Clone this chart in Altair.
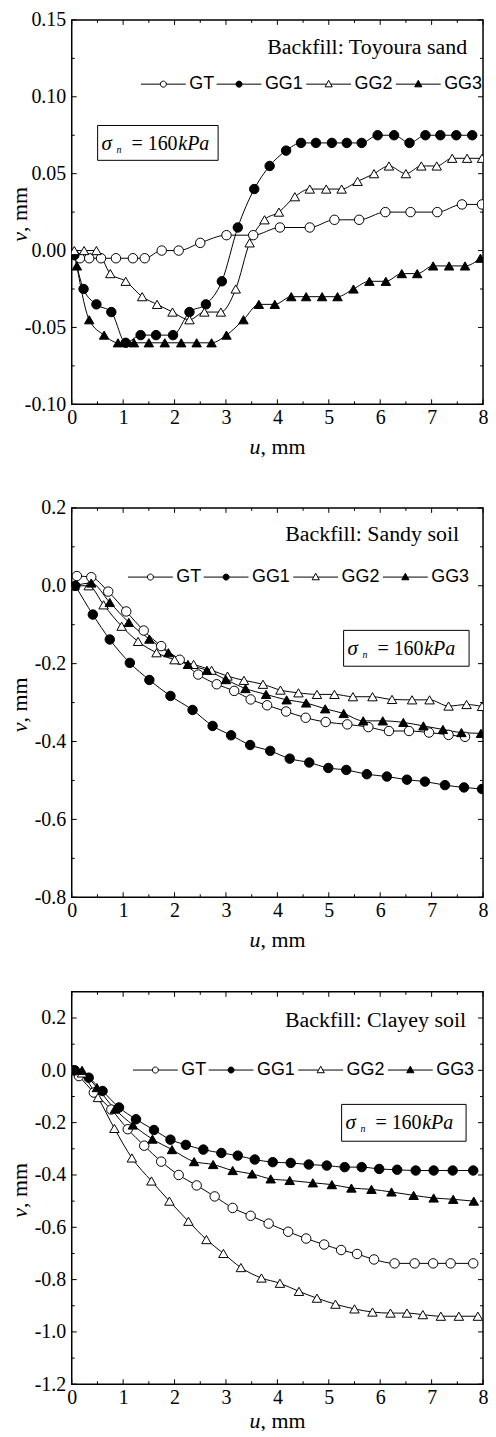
import altair as alt
import pandas as pd

SERIES = ["GT", "GG1", "GG2", "GG3"]
MARKER_SHAPES = ["circle", "circle", "triangle-up", "triangle-up"]
MARKER_FILLS = ["white", "black", "white", "black"]
MARKER_STROKES = ["black", "black", "black", "black"]

# ---------- Panel 1: Toyoura sand ----------
T_GT_u = [0.16, 0.34, 0.57, 0.86, 1.19, 1.42, 1.75, 2.08, 2.5, 3.01, 3.53, 4.05, 4.63, 5.11, 5.59, 6.1, 6.59, 7.11, 7.59, 7.98]
T_GT_v = [-0.005, -0.005, -0.005, -0.005, -0.005, -0.005, 0.0, 0.0, 0.005, 0.01, 0.01, 0.015, 0.015, 0.02, 0.02, 0.025, 0.025, 0.025, 0.03, 0.03]
T_GG1_u = [0.05, 0.23, 0.48, 0.77, 1.05, 1.34, 1.64, 1.97, 2.29, 2.61, 2.92, 3.23, 3.55, 3.85, 4.17, 4.46, 4.75, 5.06, 5.35, 5.64, 5.95, 6.27, 6.57, 6.88, 7.17, 7.48, 7.79]
T_GG1_v = [-0.003, -0.025, -0.035, -0.04, -0.06, -0.055, -0.055, -0.055, -0.04, -0.035, -0.02, 0.015, 0.04, 0.055, 0.065, 0.07, 0.07, 0.07, 0.07, 0.07, 0.075, 0.075, 0.07, 0.075, 0.075, 0.075, 0.075]
T_GG2_u = [0.05, 0.24, 0.48, 0.75, 1.05, 1.37, 1.66, 1.96, 2.29, 2.58, 2.9, 3.19, 3.46, 3.75, 4.03, 4.34, 4.63, 4.95, 5.25, 5.56, 5.88, 6.17, 6.5, 6.8, 7.1, 7.4, 7.69, 7.98]
T_GG2_v = [0.0, 0.0, 0.0, -0.015, -0.02, -0.03, -0.035, -0.04, -0.045, -0.04, -0.04, -0.025, 0.005, 0.02, 0.025, 0.035, 0.04, 0.04, 0.04, 0.045, 0.05, 0.055, 0.05, 0.055, 0.055, 0.06, 0.06, 0.06]
T_GG3_u = [0.1, 0.34, 0.63, 0.9, 1.21, 1.5, 1.81, 2.13, 2.43, 2.72, 3.01, 3.34, 3.64, 3.95, 4.27, 4.56, 4.87, 5.17, 5.48, 5.79, 6.11, 6.42, 6.72, 7.03, 7.34, 7.65, 7.95]
T_GG3_v = [-0.01, -0.045, -0.055, -0.06, -0.06, -0.06, -0.06, -0.06, -0.06, -0.06, -0.055, -0.045, -0.035, -0.035, -0.03, -0.03, -0.03, -0.03, -0.025, -0.02, -0.02, -0.015, -0.015, -0.01, -0.01, -0.01, -0.005]

# ---------- Panel 2: Sandy soil ----------
S_GT_u = [0.1, 0.38, 0.71, 1.06, 1.4, 1.74, 2.1, 2.46, 2.82, 3.16, 3.48, 3.8, 4.17, 4.55, 4.94, 5.36, 5.77, 6.17, 6.56, 6.95, 7.33, 7.65]
S_GT_v = [0.025, 0.022, -0.015, -0.066, -0.115, -0.155, -0.19, -0.228, -0.253, -0.27, -0.292, -0.307, -0.323, -0.339, -0.35, -0.356, -0.363, -0.373, -0.373, -0.377, -0.383, -0.388]
S_GG1_u = [0.07, 0.41, 0.74, 1.13, 1.51, 1.92, 2.35, 2.74, 3.1, 3.47, 3.86, 4.24, 4.62, 4.99, 5.34, 5.74, 6.13, 6.52, 6.87, 7.26, 7.63, 7.98]
S_GG1_v = [0.0, -0.074, -0.138, -0.198, -0.242, -0.283, -0.319, -0.36, -0.384, -0.409, -0.424, -0.444, -0.454, -0.468, -0.473, -0.484, -0.49, -0.498, -0.503, -0.512, -0.518, -0.522]
S_GG2_u = [0.05, 0.33, 0.62, 0.97, 1.29, 1.65, 2.0, 2.37, 2.72, 3.03, 3.35, 3.72, 4.06, 4.41, 4.77, 5.11, 5.47, 5.85, 6.23, 6.62, 6.96, 7.33, 7.68, 7.98]
S_GG2_v = [0.0, 0.0, -0.049, -0.104, -0.143, -0.172, -0.19, -0.202, -0.217, -0.232, -0.243, -0.253, -0.268, -0.275, -0.279, -0.279, -0.285, -0.285, -0.292, -0.293, -0.293, -0.309, -0.305, -0.31]
S_GG3_u = [0.05, 0.38, 0.74, 1.11, 1.51, 1.88, 2.26, 2.63, 3.0, 3.38, 3.78, 4.18, 4.56, 4.93, 5.29, 5.67, 6.05, 6.45, 6.84, 7.22, 7.58, 7.96]
S_GG3_v = [0.0, 0.007, -0.043, -0.094, -0.137, -0.172, -0.202, -0.217, -0.241, -0.264, -0.279, -0.293, -0.301, -0.316, -0.328, -0.347, -0.347, -0.351, -0.36, -0.369, -0.377, -0.379]

# ---------- Panel 3: Clayey soil ----------
C_GT_u = [0.03, 0.14, 0.43, 0.77, 1.09, 1.41, 1.74, 2.08, 2.43, 2.78, 3.13, 3.48, 3.83, 4.21, 4.56, 4.91, 5.24, 5.55, 5.88, 6.28, 6.67, 7.03, 7.37, 7.81]
C_GT_v = [0.0, -0.022, -0.085, -0.15, -0.225, -0.288, -0.349, -0.4, -0.44, -0.482, -0.526, -0.556, -0.586, -0.617, -0.643, -0.666, -0.687, -0.702, -0.723, -0.738, -0.738, -0.738, -0.738, -0.738]
C_GG1_u = [0.06, 0.33, 0.6, 0.92, 1.25, 1.6, 1.92, 2.22, 2.56, 2.91, 3.23, 3.56, 3.91, 4.26, 4.61, 4.96, 5.31, 5.64, 5.98, 6.33, 6.69, 7.04, 7.41, 7.81]
C_GG1_v = [0.0, -0.028, -0.079, -0.142, -0.187, -0.228, -0.265, -0.285, -0.303, -0.316, -0.326, -0.341, -0.351, -0.354, -0.36, -0.364, -0.37, -0.37, -0.377, -0.38, -0.383, -0.383, -0.383, -0.383]
C_GG2_u = [0.2, 0.51, 0.83, 1.17, 1.55, 1.9, 2.27, 2.62, 2.95, 3.29, 3.69, 4.05, 4.42, 4.77, 5.13, 5.5, 5.85, 6.2, 6.52, 6.83, 7.18, 7.53, 7.9]
C_GG2_v = [-0.01, -0.104, -0.222, -0.335, -0.423, -0.5, -0.577, -0.647, -0.7, -0.754, -0.794, -0.814, -0.845, -0.871, -0.894, -0.912, -0.924, -0.928, -0.928, -0.934, -0.94, -0.94, -0.94]
C_GG3_u = [0.2, 0.49, 0.84, 1.19, 1.57, 1.95, 2.38, 2.75, 3.13, 3.51, 3.87, 4.24, 4.69, 5.06, 5.44, 5.83, 6.22, 6.65, 7.04, 7.42, 7.82]
C_GG3_v = [0.0, -0.066, -0.148, -0.209, -0.263, -0.303, -0.349, -0.36, -0.383, -0.396, -0.415, -0.421, -0.43, -0.437, -0.45, -0.455, -0.465, -0.478, -0.488, -0.493, -0.5]

# ---------- texts & ticks ----------
PANEL_TITLES = ["Backfill: Toyoura sand", "Backfill: Sandy soil", "Backfill: Clayey soil"]
SIGMA_SYMBOL = "σ"
SIGMA_SUB = "n"
SIGMA_VALUE = "= 160"
SIGMA_UNIT = "kPa"
U_LABEL = "u"
V_LABEL = "v"
UNIT_LABEL = ", mm"

U_MAJOR = [0, 1, 2, 3, 4, 5, 6, 7, 8]
U_MINOR = [0.5, 1.5, 2.5, 3.5, 4.5, 5.5, 6.5, 7.5]
T_Y_MAJOR = [-0.10, -0.05, 0.0, 0.05, 0.10, 0.15]
T_Y_MINOR = [-0.075, -0.025, 0.025, 0.075, 0.125]
S_Y_MAJOR = [-0.8, -0.6, -0.4, -0.2, 0.0, 0.2]
S_Y_MINOR = [-0.7, -0.5, -0.3, -0.1, 0.1]
C_Y_MAJOR = [-1.2, -1.0, -0.8, -0.6, -0.4, -0.2, 0.0, 0.2]
C_Y_MINOR = [-1.1, -0.9, -0.7, -0.5, -0.3, -0.1, 0.1]

SERIF = "Liberation Serif"
SANS = "Liberation Sans"

# legend symbols: line - marker - line (unit coordinates)
CIRC = "M0.135,0A0.135,0.135,0,1,1,-0.135,0A0.135,0.135,0,1,1,0.135,0Z"
TRI = "M0,-0.17L0.16,0.12L-0.16,0.12Z"
LEGEND_PATHS = [
    "M-1,0L-0.135,0M0.135,0L1,0" + CIRC,
    "M-1,0L-0.135,0M0.135,0L1,0" + CIRC,
    "M-1,0L-0.094,0M0.094,0L1,0" + TRI,
    "M-1,0L-0.094,0M0.094,0L1,0" + TRI,
]


def make_df(pairs):
    rows = []
    for s, (us, vs) in zip(SERIES, pairs):
        for u, v in zip(us, vs):
            rows.append({"series": s, "u": u, "v": v})
    return pd.DataFrame(rows)


def xticks(vals, xs, H, size):
    d = pd.DataFrame({"t": vals})
    bottom = alt.Chart(d).mark_rule(color="black", strokeWidth=1).encode(
        x=alt.X("t:Q", scale=xs, axis=None), y=alt.value(H), y2=alt.value(H - size))
    top = alt.Chart(d).mark_rule(color="black", strokeWidth=1).encode(
        x=alt.X("t:Q", scale=xs, axis=None), y=alt.value(0), y2=alt.value(size))
    return [bottom, top]


def yticks(vals, ys, W, size):
    d = pd.DataFrame({"t": vals})
    left = alt.Chart(d).mark_rule(color="black", strokeWidth=1).encode(
        y=alt.Y("t:Q", scale=ys, axis=None), x=alt.value(0), x2=alt.value(size))
    right = alt.Chart(d).mark_rule(color="black", strokeWidth=1).encode(
        y=alt.Y("t:Q", scale=ys, axis=None), x=alt.value(W), x2=alt.value(W - size))
    return [left, right]


def text_layer(label, x, y, size, style="normal", align="left", baseline="alphabetic",
               angle=0, font=SERIF):
    return alt.Chart(pd.DataFrame({"label": [label]})).mark_text(
        align=align, baseline=baseline, font=font, fontSize=size, fontStyle=style,
        color="black", angle=angle,
    ).encode(x=alt.value(x), y=alt.value(y), text="label:N")


def panel(df, title, ydom, ymaj, ymin, yfmt, W, H, title_xy, leg_xy, box, xtitle_dy):
    xs = alt.Scale(domain=[0, 8], nice=False, zero=False)
    ys = alt.Scale(domain=ydom, nice=False, zero=False)

    lines = alt.Chart(df).mark_line(
        color="black", strokeWidth=1, interpolate="monotone", clip=True
    ).encode(
        x=alt.X("u:Q", scale=xs, title=None,
                axis=alt.Axis(orient="bottom", values=U_MAJOR, format="d",
                              labelFont=SERIF, labelFontSize=20, labelColor="black",
                              labelPadding=3, ticks=False, tickSize=0, domain=False,
                              grid=False, labelFlush=False, labelOverlap=False, minExtent=0)),
        y=alt.Y("v:Q", scale=ys, title=None,
                axis=alt.Axis(orient="left", values=ymaj, format=yfmt,
                              labelExpr="replace(datum.label, '\u2212', '-')",
                              labelFont=SERIF, labelFontSize=20, labelColor="black",
                              labelPadding=6, ticks=False, tickSize=0, domain=False,
                              grid=False, labelFlush=False, labelOverlap=False, minExtent=0)),
        detail="series:N",
    )

    pts = alt.Chart(df).mark_point(
        filled=True, stroke="black", strokeWidth=1, size=90, opacity=1, clip=True
    ).encode(
        x=alt.X("u:Q", scale=xs, axis=None),
        y=alt.Y("v:Q", scale=ys, axis=None),
        shape=alt.Shape("series:N", scale=alt.Scale(domain=SERIES, range=MARKER_SHAPES), legend=None),
        fill=alt.Fill("series:N", scale=alt.Scale(domain=SERIES, range=MARKER_FILLS), legend=None),
    )

    leg = alt.Legend(
        orient="none", legendX=leg_xy[0], legendY=leg_xy[1], direction="horizontal",
        title=None, symbolSize=2025, symbolStrokeColor="black", symbolStrokeWidth=1,
        symbolOpacity=1, labelFont=SANS, labelFontSize=18, labelColor="black",
        labelOffset=3, columnPadding=0, padding=0,
    )
    legl = alt.Chart(df).mark_point(
        filled=True, strokeWidth=1, opacity=0, clip=True
    ).encode(
        x=alt.X("u:Q", scale=xs, axis=None),
        y=alt.Y("v:Q", scale=ys, axis=None),
        shape=alt.Shape("series:N", scale=alt.Scale(domain=SERIES, range=LEGEND_PATHS), legend=leg),
        fill=alt.Fill("series:N", scale=alt.Scale(domain=SERIES, range=MARKER_FILLS), legend=leg),
        stroke=alt.Stroke("series:N", scale=alt.Scale(domain=SERIES, range=MARKER_STROKES), legend=leg),
    )

    bl, br, bt, bb = box
    rect = alt.Chart(pd.DataFrame({"k": [0]})).mark_rect(
        fill="white", stroke="black", strokeWidth=1
    ).encode(x=alt.value(bl), x2=alt.value(br), y=alt.value(bt), y2=alt.value(bb))
    base = bt + 25
    sig = [
        text_layer(SIGMA_SYMBOL, bl + 4, base, 21, "italic"),
        text_layer(SIGMA_SUB, bl + 19, base + 3, 10, "italic"),
        text_layer(SIGMA_VALUE, bl + 34, base, 20),
        text_layer(SIGMA_UNIT, bl + 81, base, 20, "italic"),
    ]

    ttl = text_layer(title, title_xy[0], title_xy[1], 22, align="right", baseline="middle")

    xa = W / 2 - 17
    xt = [
        text_layer(U_LABEL, xa, H + xtitle_dy, 22, "italic", align="right", baseline="middle"),
        text_layer(UNIT_LABEL, xa, H + xtitle_dy, 22, align="left", baseline="middle"),
    ]
    ya = H / 2 + 20
    yt = [
        text_layer(V_LABEL, -52, ya, 22, "italic", align="right", baseline="middle", angle=270),
        text_layer(UNIT_LABEL, -52, ya, 22, align="left", baseline="middle", angle=270),
    ]

    ticks = (xticks(U_MAJOR, xs, H, 5) + xticks(U_MINOR, xs, H, 3)
             + yticks(ymaj, ys, W, 5) + yticks(ymin, ys, W, 3))

    return alt.layer(
        *ticks, lines, pts, rect, *sig, ttl, *xt, *yt, legl
    ).resolve_scale(
        shape="independent", fill="independent", stroke="independent"
    ).resolve_axis(
        x="independent", y="independent"
    ).properties(width=W, height=H)


df1 = make_df([(T_GT_u, T_GT_v), (T_GG1_u, T_GG1_v), (T_GG2_u, T_GG2_v), (T_GG3_u, T_GG3_v)])
df2 = make_df([(S_GT_u, S_GT_v), (S_GG1_u, S_GG1_v), (S_GG2_u, S_GG2_v), (S_GG3_u, S_GG3_v)])
df3 = make_df([(C_GT_u, C_GT_v), (C_GG1_u, C_GG1_v), (C_GG2_u, C_GG2_v), (C_GG3_u, C_GG3_v)])

W = 413
p1 = panel(df1, PANEL_TITLES[0], [-0.10, 0.15], T_Y_MAJOR, T_Y_MINOR, ".2f", W, 386,
           (W - 16, 27), (W - 344, 41.5), (26, 147, 106, 141), 43)
p2 = panel(df2, PANEL_TITLES[1], [-0.8, 0.2], S_Y_MAJOR, S_Y_MINOR, ".1f", W, 391,
           (W - 24, 26), (W - 357, 46.5), (W - 140, W - 14, 123, 159), 43)
p3 = panel(df3, PANEL_TITLES[2], [-1.2, 0.3], C_Y_MAJOR, C_Y_MINOR, ".1f", W, 394,
           (W - 17, 28), (W - 352, 55.5), (W - 142, W - 17, 113, 150), 37)

chart = alt.concat(p1, p2, p3, columns=1, spacing=38, align="none").properties(
    padding={"left": 0, "top": -2, "right": -1, "bottom": -5},
    background="white",
).configure_view(
    stroke="black", strokeWidth=1.5, fill="white"
).configure_axis(
    labelFont=SERIF, labelFontSize=20, labelColor="black"
)

chart.save("out.html", embed_options={"renderer": "svg", "actions": False})
